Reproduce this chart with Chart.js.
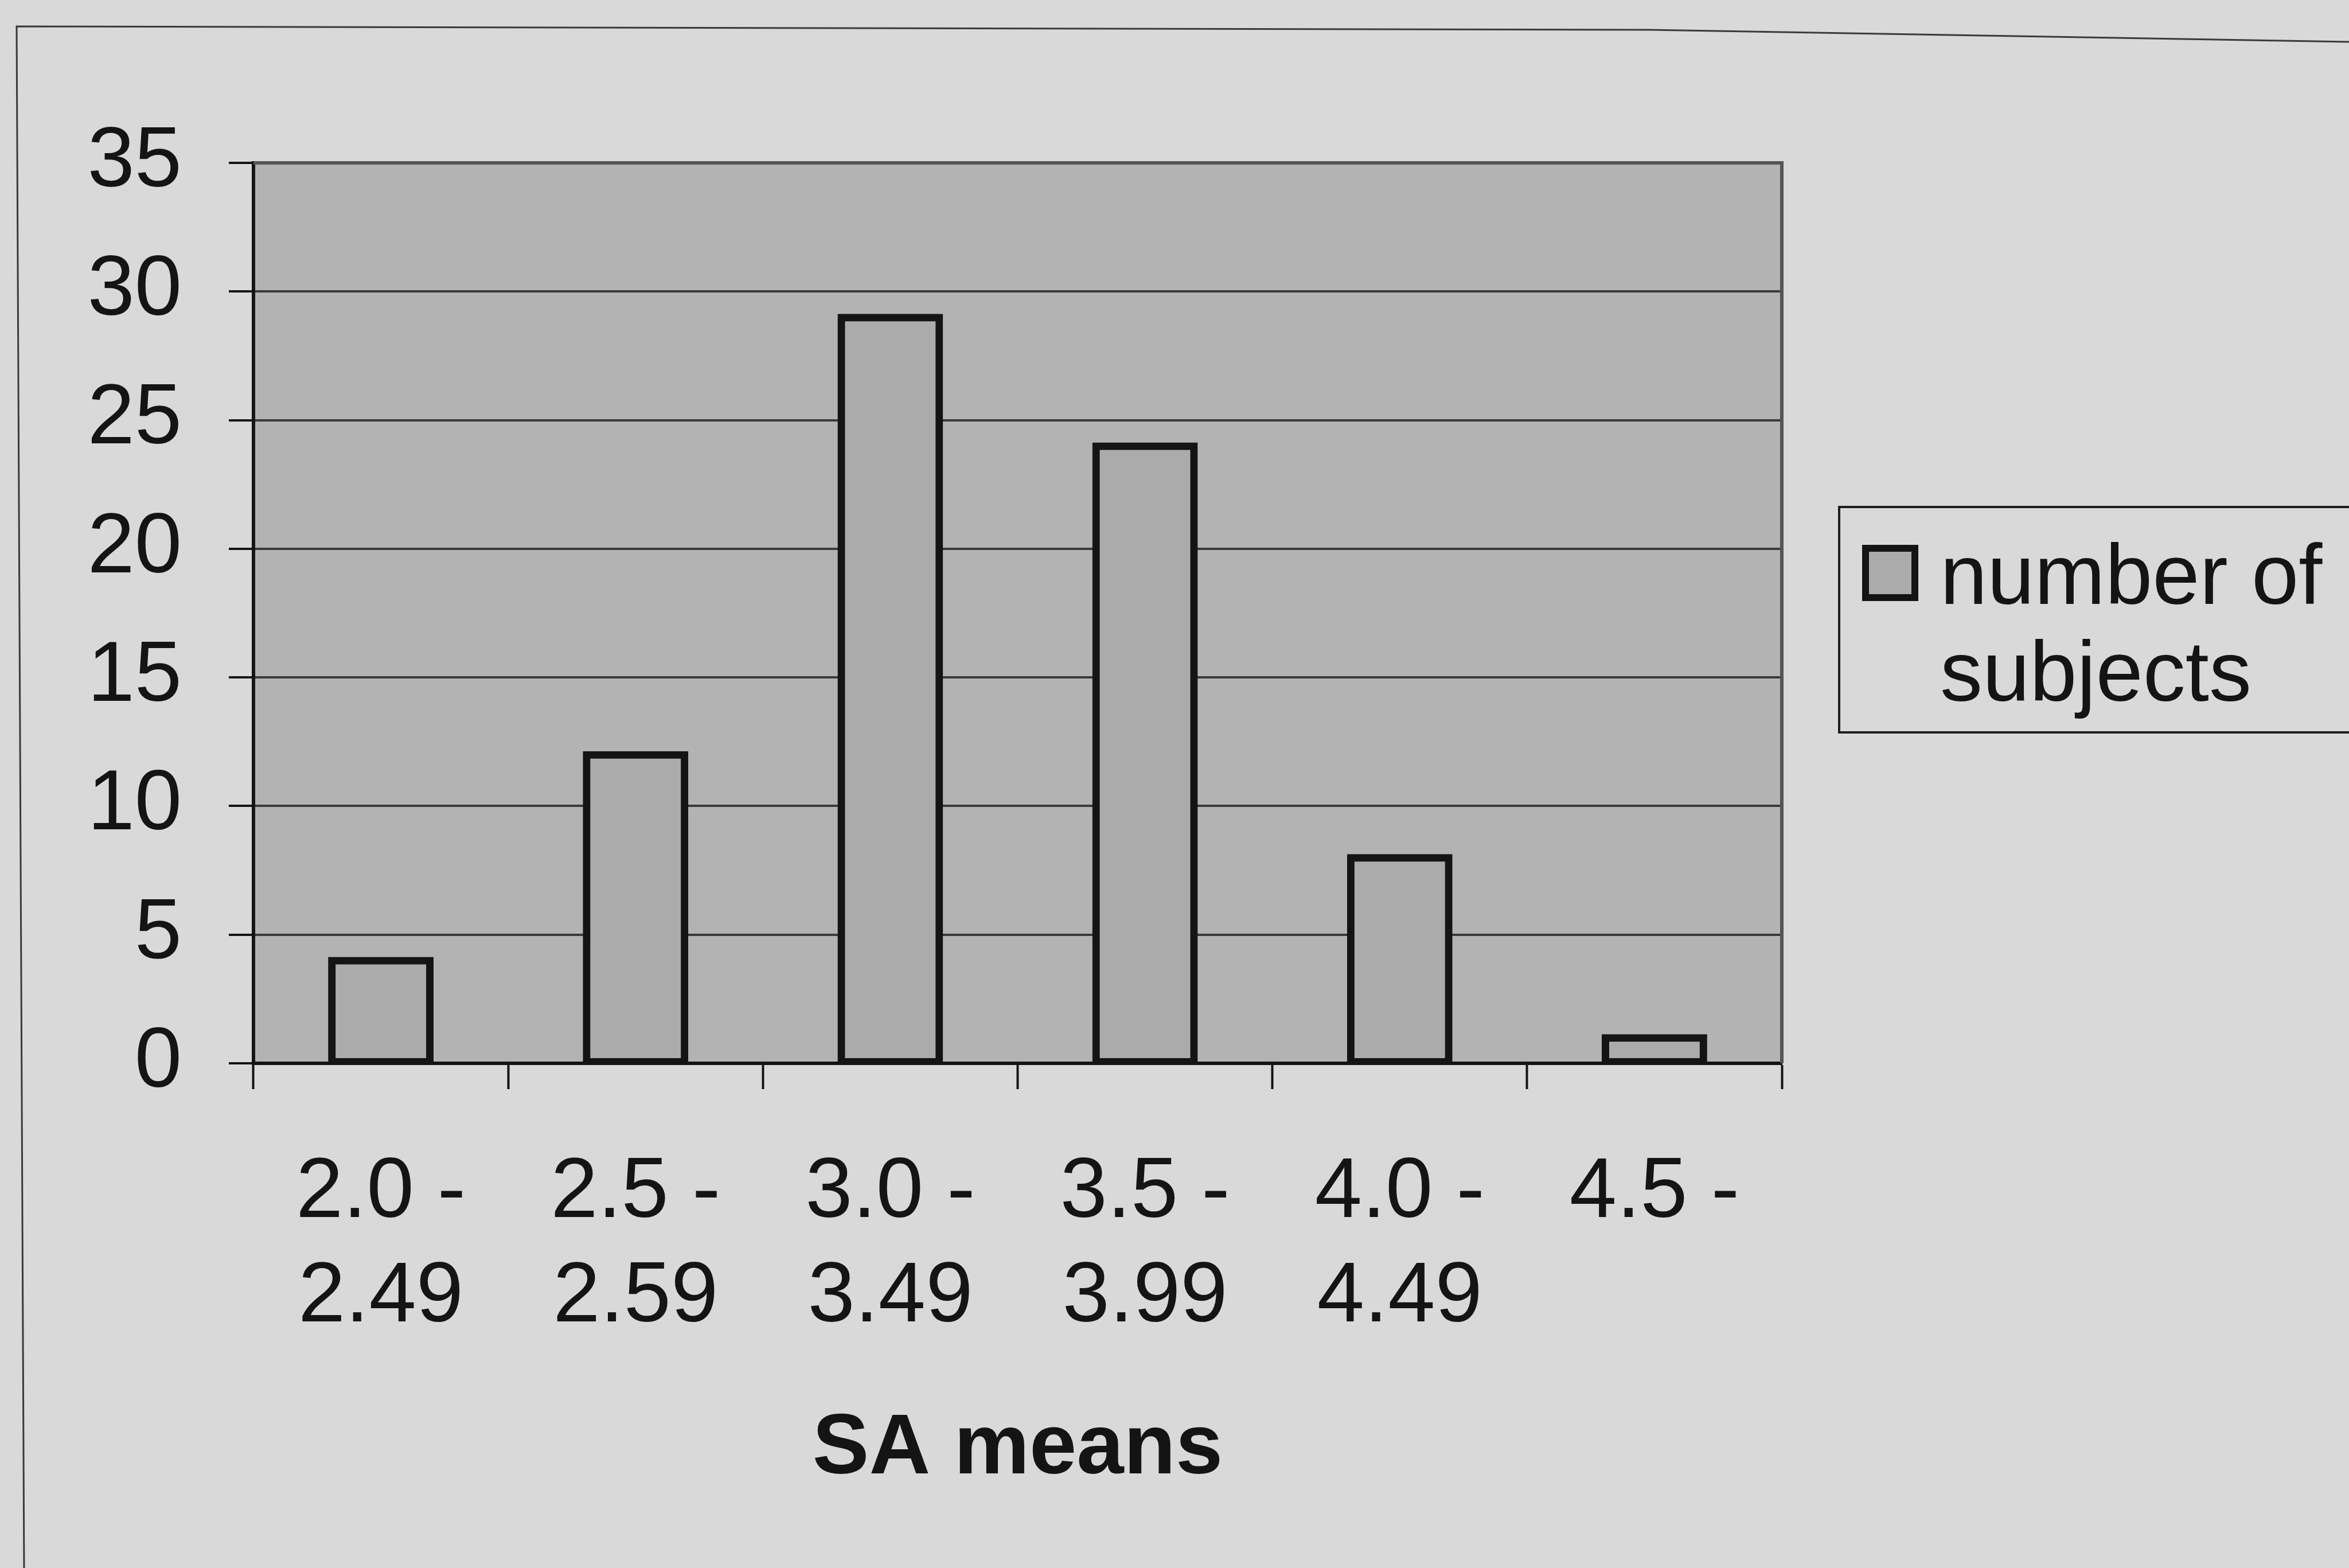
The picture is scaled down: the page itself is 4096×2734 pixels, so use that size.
<!DOCTYPE html>
<html>
<head>
<meta charset="utf-8">
<script src="https://cdn.jsdelivr.net/npm/chart.js@4.4.0/dist/chart.umd.min.js"></script>
<style>
  html, body { margin: 0; padding: 0; background: #d9d9d9; overflow: hidden; }
  canvas { display: block; }
</style>
</head>
<body>
<canvas id="chart" width="4096" height="2734"></canvas>
<script>
// Histogram data: number of subjects per SA-mean band
const categories = [['2.0 -', '2.49'], ['2.5 -', '2.59'], ['3.0 -', '3.49'], ['3.5 -', '3.99'], ['4.0 -', '4.49'], ['4.5 -']];
const subjectCounts = [4, 12, 29, 24, 8, 1];
const yTicks = [0, 5, 10, 15, 20, 25, 30, 35];
const seriesName = ['number of', 'subjects'];
const axisTitle = 'SA means';

const FONT = "'Liberation Sans', Arial, sans-serif";
const PAGE_BG = '#d9d9d9';
const PLOT_BG = '#b3b3b3';
const BAR_FILL = '#ababab';
const INK = '#141414';

// Page background, outer frame and plot-area fill
const backdrop = {
  id: 'backdrop',
  beforeDraw(chart) {
    const { ctx, chartArea: a, width, height } = chart;
    ctx.save();
    ctx.fillStyle = PAGE_BG;
    ctx.fillRect(0, 0, width, height);
    // outer frame (left and top edges)
    ctx.strokeStyle = '#3a3a3a';
    ctx.lineWidth = 3;
    ctx.beginPath();
    ctx.moveTo(42, height);
    ctx.lineTo(29, 46);
    ctx.lineTo(2876, 52);
    ctx.lineTo(width, 73);
    ctx.stroke();
    // plot area
    ctx.fillStyle = PLOT_BG;
    ctx.fillRect(a.left, a.top, a.right - a.left, a.bottom - a.top);
    ctx.restore();
  },
  beforeDatasetsDraw(chart) {
    const { ctx, chartArea: a } = chart;
    ctx.save();
    ctx.strokeStyle = '#555555';
    ctx.lineWidth = 6;
    ctx.beginPath();
    ctx.moveTo(a.left, a.top);
    ctx.lineTo(a.right, a.top);
    ctx.lineTo(a.right, a.bottom);
    ctx.stroke();
    ctx.restore();
  }
};

// Boxed legend to the right of the plot
const boxedLegend = {
  id: 'boxedLegend',
  afterDraw(chart) {
    const ctx = chart.ctx;
    const ds = chart.data.datasets[0];
    ctx.save();
    ctx.strokeStyle = '#1e1e1e';
    ctx.lineWidth = 4;
    ctx.strokeRect(3207, 884, 1000, 393);
    // swatch
    ctx.fillStyle = ds.backgroundColor;
    ctx.fillRect(3247, 950, 98, 98);
    ctx.strokeStyle = ds.borderColor;
    ctx.lineWidth = 12;
    ctx.strokeRect(3253, 956, 86, 86);
    // label
    ctx.fillStyle = INK;
    ctx.font = '148px ' + FONT;
    ctx.textAlign = 'left';
    ctx.textBaseline = 'alphabetic';
    ctx.fillText(seriesName[0], 3383, 1053);
    ctx.fillText(seriesName[1], 3383, 1222);
    ctx.restore();
  }
};

new Chart(document.getElementById('chart'), {
  type: 'bar',
  data: {
    labels: categories,
    datasets: [{
      label: seriesName.join(' '),
      data: subjectCounts,
      backgroundColor: BAR_FILL,
      borderColor: INK,
      borderWidth: 13,
      borderSkipped: false,
      inflateAmount: 6,          // centre the outline on the bar edge
      categoryPercentage: 1.0,
      barPercentage: 0.387
    }]
  },
  options: {
    responsive: false,
    maintainAspectRatio: false,
    devicePixelRatio: 1,
    animation: false,
    events: [],
    layout: { padding: { left: 0, top: 284, right: 989, bottom: 0 } },
    plugins: {
      legend: { display: false },
      tooltip: { enabled: false },
      title: { display: false }
    },
    scales: {
      x: {
        offset: true,
        grid: {
          offset: true,
          drawOnChartArea: false,
          drawTicks: true,
          tickLength: 45,
          tickColor: INK,
          tickWidth: 4
        },
        border: { display: true, color: INK, width: 6 },
        ticks: {
          color: INK,
          padding: 91,
          maxRotation: 0,
          minRotation: 0,
          autoSkip: false,
          font: { family: FONT, size: 148, lineHeight: 1.23 }
        },
        title: {
          display: true,
          text: axisTitle,
          color: INK,
          padding: { top: 0, bottom: 117 },
          font: { family: FONT, size: 148, weight: 'bold', lineHeight: 1.2 }
        },
        afterFit(scale) { scale.height = 880; }
      },
      y: {
        min: yTicks[0],
        max: yTicks[yTicks.length - 1],
        ticks: {
          stepSize: yTicks[1] - yTicks[0],
          color: INK,
          padding: 82,
          font: { family: FONT, size: 148, lineHeight: 1.2 }
        },
        grid: {
          color: '#3a3a3a',
          lineWidth: 4,
          drawTicks: true,
          tickLength: 43,
          tickColor: INK,
          tickWidth: 4
        },
        border: { display: true, color: INK, width: 6 },
        afterFit(scale) { scale.width = 442; }
      }
    }
  },
  plugins: [backdrop, boxedLegend]
});
</script>
</body>
</html>
